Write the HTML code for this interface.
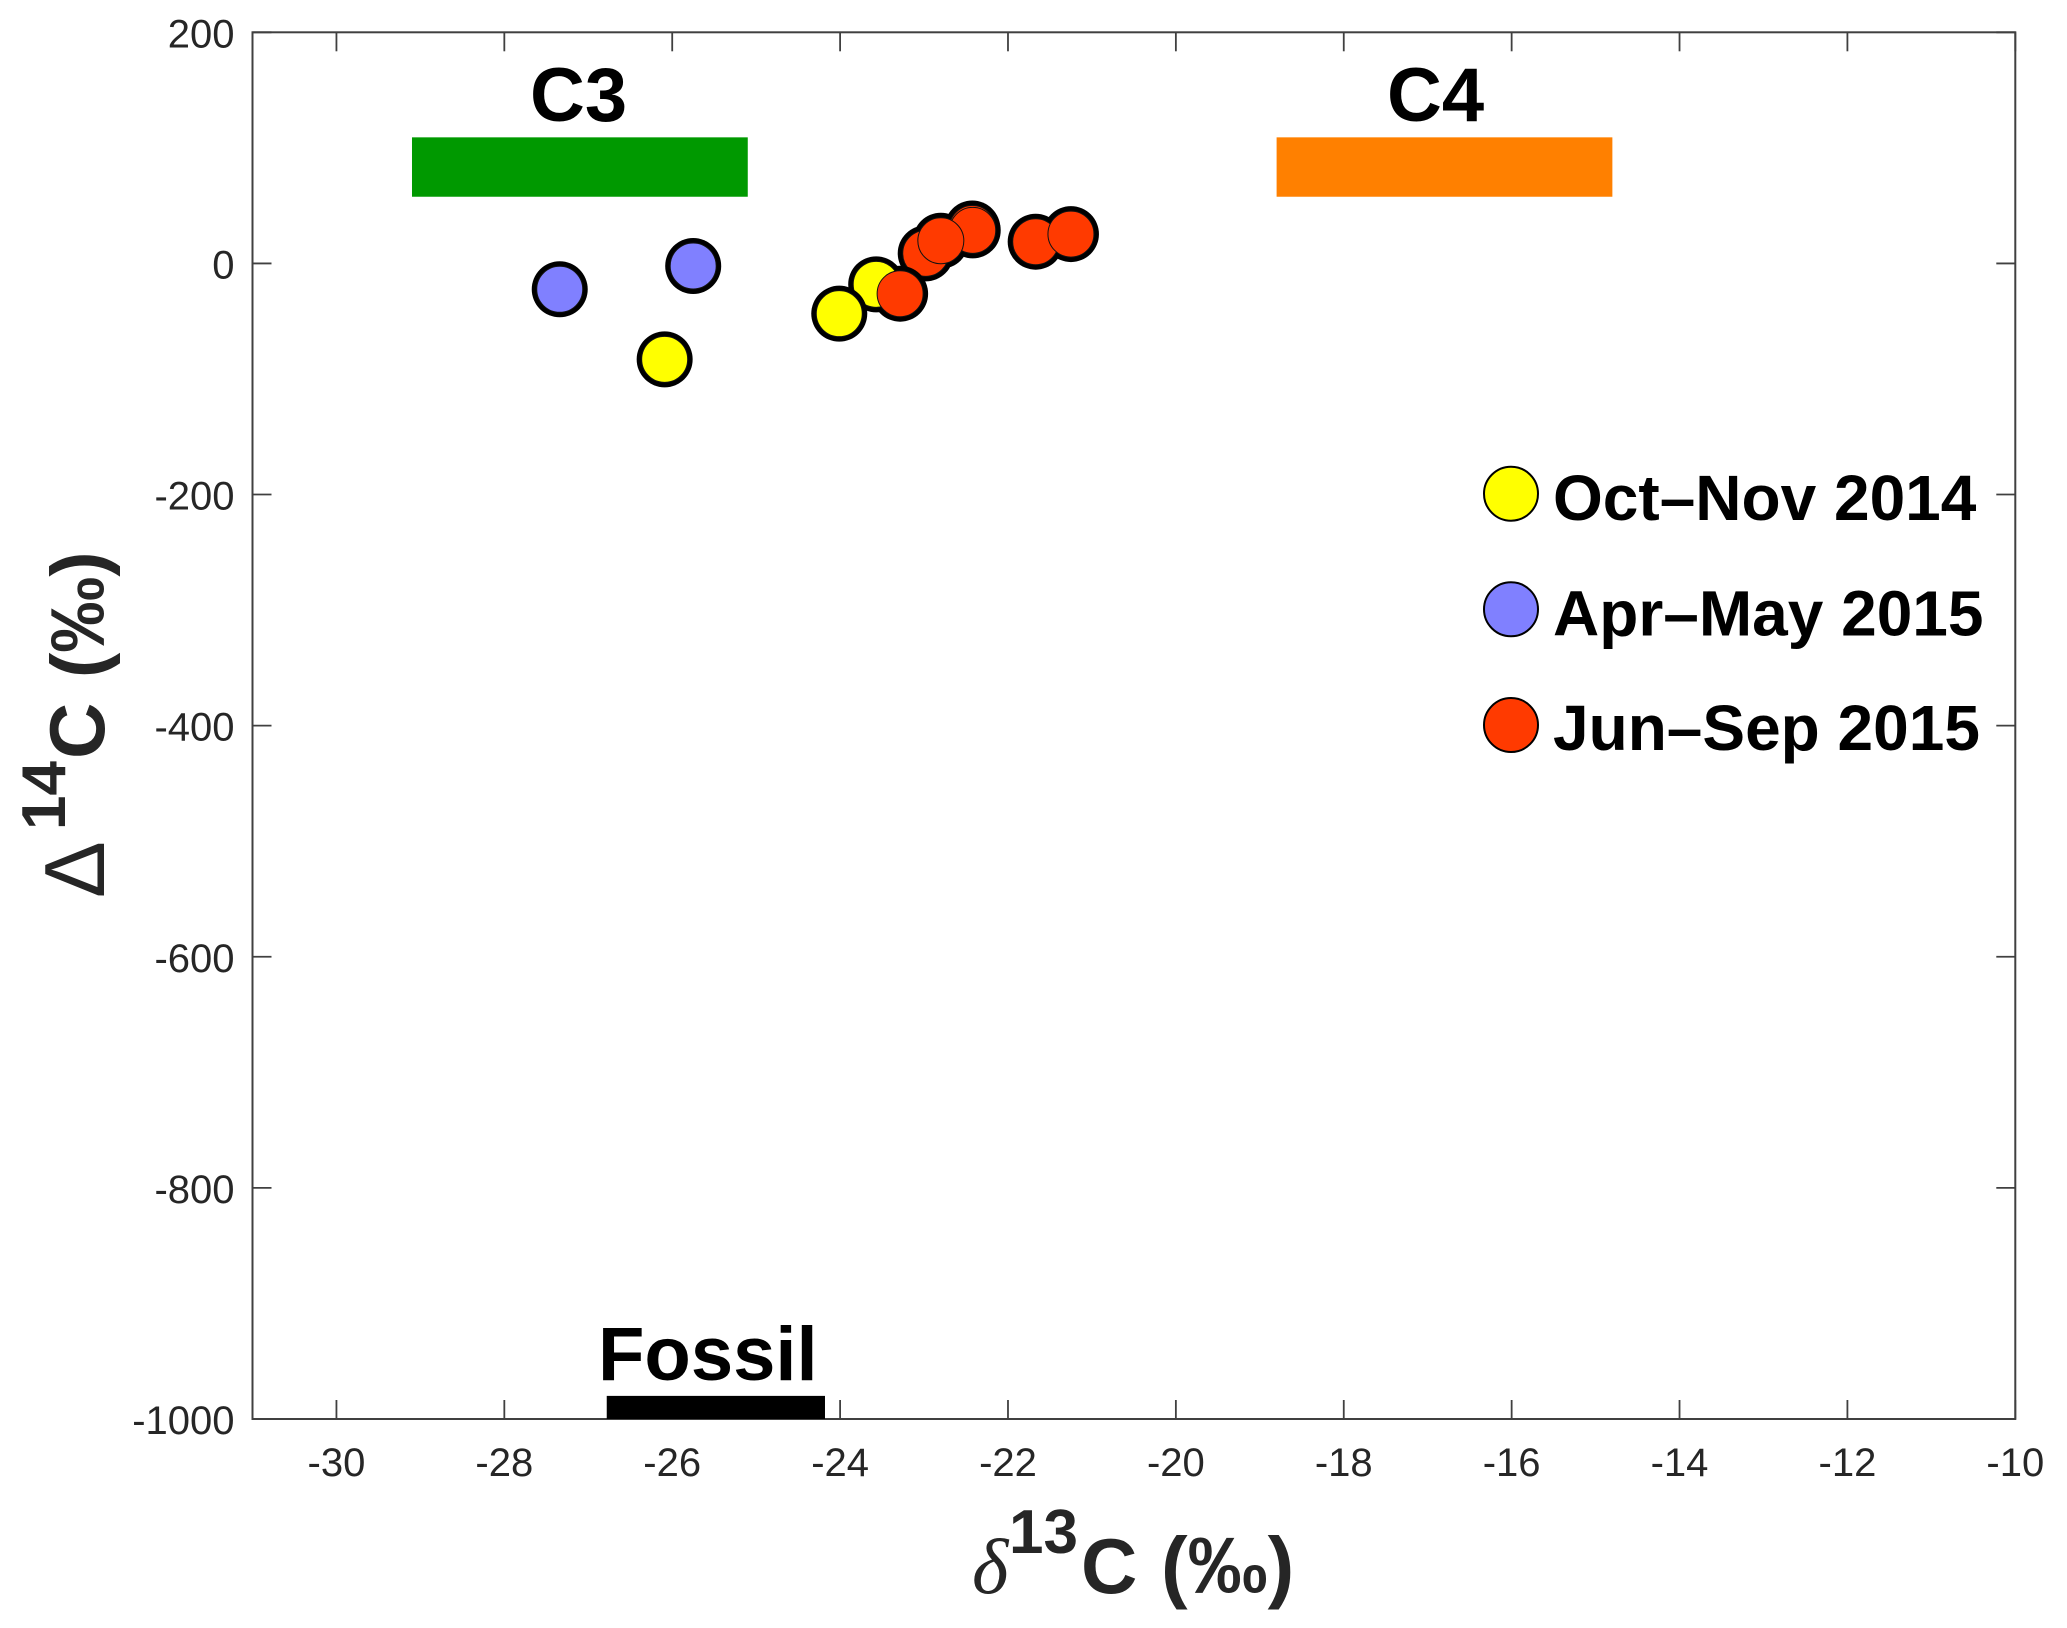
<!DOCTYPE html>
<html lang="en">
<head>
<meta charset="utf-8">
<title>Radiocarbon and stable carbon isotope scatter chart</title>
<style>
html,body{margin:0;padding:0;background:#fff;width:2067px;height:1628px;overflow:hidden}
svg{display:block}
text{font-family:"Liberation Sans",sans-serif}
</style>
</head>
<body>
<svg id="chart" xmlns="http://www.w3.org/2000/svg" width="2067" height="1628" viewBox="0 0 2067 1628">
  <rect x="0" y="0" width="2067" height="1628" fill="#ffffff"/>
  <g id="axes"></g>
  <g id="source-bars"></g>
  <g id="marks"></g>

  <text x="530" y="121" font-size="76" font-weight="700" fill="#000">C3</text>
  <text x="1387" y="121" font-size="76" font-weight="700" fill="#000">C4</text>
  <text x="598" y="1380" font-size="76" font-weight="700" fill="#000">Fossil</text>

  <g>
    <g>
      <circle cx="1511" cy="493.7" r="27" fill="#ffff00" stroke="#000" stroke-width="2"/>
      <text x="1553" y="520" font-size="64" font-weight="700" fill="#000">Oct–Nov 2014</text>
    </g>
    <g>
      <circle cx="1511" cy="609.3" r="27" fill="#8080ff" stroke="#000" stroke-width="2"/>
      <text x="1553" y="635.7" font-size="64" font-weight="700" fill="#000">Apr–May 2015</text>
    </g>
    <g>
      <circle cx="1511" cy="725" r="27" fill="#ff3a00" stroke="#000" stroke-width="2"/>
      <text x="1553" y="750" font-size="64" font-weight="700" fill="#000">Jun–Sep 2015</text>
    </g>
  </g>

  <text y="1593" font-size="78" font-weight="700" fill="#262626"><tspan x="972" font-family="Liberation Serif, serif" font-style="italic" font-weight="400">δ</tspan><tspan x="1009" y="1553" font-size="62">13</tspan><tspan x="1081" y="1593">C</tspan><tspan x="1161" font-size="80">(‰)</tspan></text>

  <text transform="translate(104,898) rotate(-90)" font-size="78" font-weight="700" fill="#262626"><tspan x="0" y="0" font-weight="400" font-size="85">Δ</tspan><tspan x="68" y="-39" font-size="62">14</tspan><tspan x="139" y="0">C</tspan><tspan x="220" y="0" font-size="76">(‰)</tspan></text>
</svg>
<script>
const xTickValues = [-30,-28,-26,-24,-22,-20,-18,-16,-14,-12,-10];
const yTickValues = [200,0,-200,-400,-600,-800,-1000];

const octNovX = [-26.09,-24.01,-23.57];
const octNovY = [-83,-43.5,-18.1];
const aprMayX = [-27.34,-25.75];
const aprMayY = [-22.4,-2.2];
const junSepX = [-23.285,-22.98,-22.80,-22.42,-22.425,-21.67,-21.25];
const junSepY = [-26.2,8.7,19.6,28.6,30.2,18.8,25.4];

const sourceNames = ['c3-range-bar','c4-range-bar','fossil-range-bar'];
const sourceXMin = [-29.1,-18.8,-26.78];
const sourceXMax = [-25.1,-14.8,-24.18];
const sourceYMin = [57.7,57.7,-1000];
const sourceYMax = [109.1,109.1,-980];
const sourceColors = ['#009900','#ff8000','#000000'];

const NS = 'http://www.w3.org/2000/svg';
const plotLeft = 252.5, plotRight = 2015.3, plotTop = 32.3, plotBottom = 1419;
const xMin = -31, xMax = -10, yMin = -1000, yMax = 200;
function xScale(v){ return plotLeft + (v - xMin) / (xMax - xMin) * (plotRight - plotLeft); }
function yScale(v){ return plotBottom - (v - yMin) / (yMax - yMin) * (plotBottom - plotTop); }
function make(tag, attrs, parent){
  const el = document.createElementNS(NS, tag);
  for (const k in attrs) el.setAttribute(k, attrs[k]);
  parent.appendChild(el);
  return el;
}

const barsGroup = document.getElementById('source-bars');
sourceNames.forEach(function(name, i){
  const el = make('rect', {
    x: xScale(sourceXMin[i]), y: yScale(sourceYMax[i]),
    width: xScale(sourceXMax[i]) - xScale(sourceXMin[i]),
    height: yScale(sourceYMin[i]) - yScale(sourceYMax[i]),
    fill: sourceColors[i]
  }, barsGroup);
  
  
});

const axes = document.getElementById('axes');
const axisColor = '#404040', tickLen = 19, tickWidth = 1.8;
const frame = make('rect', {x: plotLeft, y: plotTop, width: plotRight - plotLeft, height: plotBottom - plotTop, fill: 'none', stroke: axisColor, 'stroke-width': 2}, axes);



xTickValues.forEach(function(v){
  const x = xScale(v);
  const bottomTick = make('line', {x1: x, x2: x, y1: plotBottom, y2: plotBottom - tickLen, stroke: axisColor, 'stroke-width': tickWidth}, axes);
  
  
  const topTick = make('line', {x1: x, x2: x, y1: plotTop, y2: plotTop + tickLen, stroke: axisColor, 'stroke-width': tickWidth}, axes);
  
  
  const label = make('text', {x: x, y: 1476, 'text-anchor': 'middle', 'font-size': 40, fill: '#262626'}, axes);
  
  
  label.textContent = String(v);
});

yTickValues.forEach(function(v){
  const y = yScale(v);
  const leftTick = make('line', {x1: plotLeft, x2: plotLeft + tickLen, y1: y, y2: y, stroke: axisColor, 'stroke-width': tickWidth}, axes);
  
  
  const rightTick = make('line', {x1: plotRight, x2: plotRight - tickLen, y1: y, y2: y, stroke: axisColor, 'stroke-width': tickWidth}, axes);
  
  
  const label = make('text', {x: 234.5, y: y + 15, 'text-anchor': 'end', 'font-size': 40, fill: '#262626'}, axes);
  
  
  label.textContent = String(v);
});

const seriesX = {oct: octNovX, apr: aprMayX, jun: junSepX};
const seriesY = {oct: octNovY, apr: aprMayY, jun: junSepY};
const seriesFill = {oct: '#ffff00', apr: '#8080ff', jun: '#ff3a00'};
const paintOrder = [
  ['jun',3,'h'],['jun',4,'h'],['jun',2,'h'],['jun',5,'h'],['jun',6,'h'],
  ['jun',4,'f'],['jun',3,'f'],
  ['jun',1,'h'],['jun',1,'f'],
  ['jun',2,'f'],['jun',5,'f'],['jun',6,'f'],
  ['jun',0,'h'],
  ['oct',2,'h'],['oct',2,'f'],['oct',1,'h'],['oct',1,'f'],
  ['jun',0,'f'],
  ['oct',0,'h'],['oct',0,'f'],
  ['apr',0,'h'],['apr',0,'f'],['apr',1,'h'],['apr',1,'f']
];
const marks = document.getElementById('marks');
paintOrder.forEach(function(step){
  const key = step[0], i = step[1];
  const cx = xScale(seriesX[key][i]), cy = yScale(seriesY[key][i]);
  if (step[2] === 'h') {
    const halo = make('circle', {cx: cx, cy: cy, r: 28, fill: '#000'}, marks);
    
    
  } else {
    const dot = make('circle', {cx: cx, cy: cy, r: 23, fill: seriesFill[key], stroke: '#111', 'stroke-width': 1}, marks);
    
    
  }
});
</script>
</body>
</html>
